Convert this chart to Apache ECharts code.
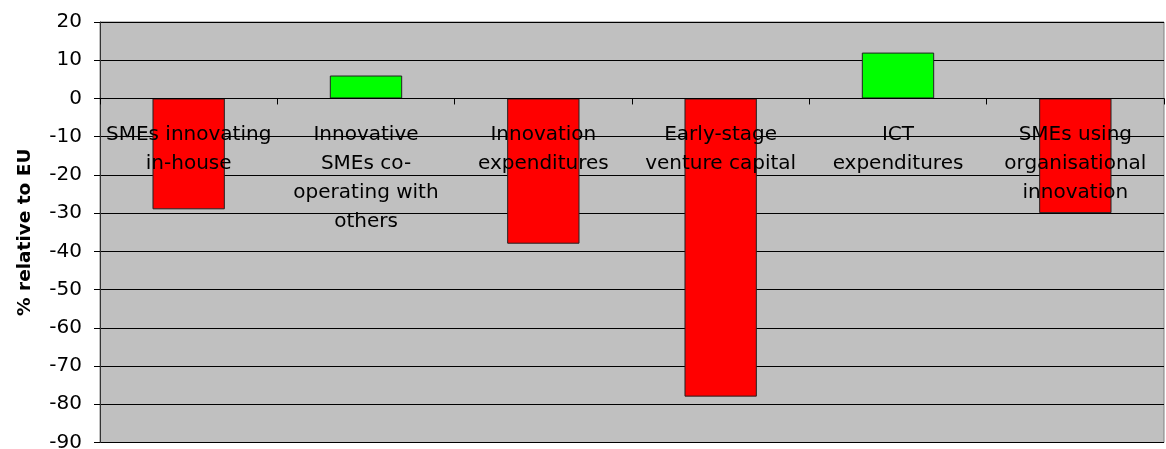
<!DOCTYPE html>
<html><head><meta charset="utf-8">
<script src="https://cdn.jsdelivr.net/npm/echarts@6/dist/echarts.min.js"></script>
<style>html,body{margin:0;padding:0;background:#fff}#c{width:1166px;height:449px}</style>
</head><body><div id="c"></div>
<script>
var categories = ['SMEs innovating\nin-house', 'Innovative\nSMEs co-\noperating with\nothers', 'Innovation\nexpenditures', 'Early-stage\nventure capital', 'ICT\nexpenditures', 'SMEs using\norganisational\ninnovation'];
var values = [-29, 6, -38, -78, 12, -30];
var yTicks = [20, 10, 0, -10, -20, -30, -40, -50, -60, -70, -80, -90];
var axisTitle = '% relative to EU';

var FONT = 'DejaVu Sans, Liberation Sans, Arial, sans-serif';
var chart = echarts.init(document.getElementById('c'));
chart.setOption({
  animation: false,
  textStyle: {fontFamily: FONT},
  grid: {left: 100, right: 2, top: 22, bottom: 6.5, containLabel: false, outerBoundsMode: 'none',
         show: true, backgroundColor: '#C0C0C0', borderColor: '#808080', borderWidth: 1},
  xAxis: {
    type: 'category', data: categories, z: 10,
    axisLine: {onZero: true, lineStyle: {color: '#000', width: 1}},
    axisTick: {show: true, inside: false, length: 6, lineStyle: {color: '#000'}},
    axisLabel: {show: false},
    splitLine: {show: false}
  },
  yAxis: {
    type: 'value', min: yTicks[yTicks.length - 1], max: yTicks[0], interval: 10,
    name: axisTitle, nameLocation: 'middle', nameGap: 65,
    nameTextStyle: {fontSize: 18.5, fontWeight: 'bold', color: '#000', fontFamily: FONT},
    axisLine: {show: true, lineStyle: {color: '#333', width: 1}},
    axisTick: {show: true, length: 6, lineStyle: {color: '#000'}},
    axisLabel: {margin: 18, fontSize: 20, color: '#000', fontFamily: FONT},
    splitLine: {show: true, lineStyle: {color: '#000', width: 1}}
  },
  series: [{
    type: 'bar', data: values.map(function (v) {
      return {value: v, itemStyle: {color: v >= 0 ? '#00FF00' : '#FF0000'}};
    }),
    barWidth: '40.8%',
    itemStyle: {borderColor: '#222', borderWidth: 1},
    z: 2
  }, {
    type: 'scatter', symbolSize: 0, z: 5, silent: true,
    itemStyle: {opacity: 1},
    data: categories.map(function (c) { return [c, 0]; }),
    label: {
      show: true, position: 'bottom', distance: 22,
      formatter: function (p) { return p.name || p.value[0]; },
      fontSize: 20, lineHeight: 29, color: '#000', opacity: 1, fontFamily: FONT, align: 'center'
    }
  }]
});
</script></body></html>
